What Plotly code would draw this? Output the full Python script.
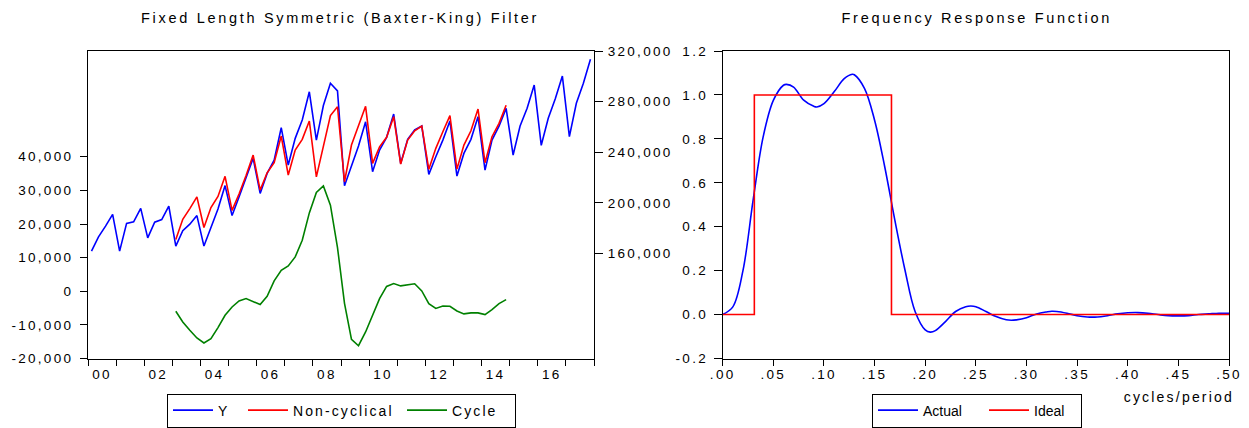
import pandas as pd
import plotly.graph_objects as go

# ---------------- data ----------------
quarters = pd.date_range("2000-01-01", "2017-10-01", freq="QS")
filt_quarters = quarters[12:60]          # 2003Q1 .. 2014Q4 (lag 12)

y_series = [161900, 173200, 181700, 190900,
            161900, 183800, 185100, 195700,
            172400, 184800, 186800, 197500,
            165900, 178100, 183200, 190000,
            165900, 181300, 195100, 213700,
            190000, 204600, 219600, 235200,
            207500, 223300, 233800, 259400,
            229900, 251000, 265500, 287800,
            249600, 276900, 294500, 288500,
            213500, 228500, 244900, 264100,
            224600, 241700, 251800, 270200,
            231200, 250200, 257600, 260700,
            222500, 236400, 249600, 264700,
            221200, 239100, 250200, 268100,
            225900, 249600, 260700, 274700,
            237800, 260700, 274700, 293100,
            245500, 266800, 282300, 300200,
            252300, 278700, 294500, 313400]

non_cyclical = [171100, 187000, 195500, 204800,
                180600, 196300, 205100, 221000,
                194100, 207000, 221600, 237800,
                210100, 223800, 231700, 252800,
                222000, 241700, 250200, 264700,
                220600, 244900, 269000, 276000,
                216700, 245700, 261100, 276300,
                231200, 244300, 251800, 268100,
                230700, 249600, 257000, 260700,
                226500, 243100, 256200, 268900,
                226700, 245700, 257000, 274200,
                231700, 252300, 262800, 277100]

cycle = [-5950, -9130, -11600, -13900,
         -15380, -14080, -10800, -7140,
         -4670, -2880, -2180, -3180,
         -3970, -1490, 3070, 6250,
         7540, 10210, 15180, 23300,
         29400, 31340, 25600, 13000,
         -3600, -14300, -16200, -12110,
         -7140, -2180, 1440, 2280,
         1590, 1980, 2230, 90,
         -3670, -5100, -4400, -4460,
         -5850, -6740, -6440, -6440,
         -6940, -5450, -3670, -2480]

freq_actual = [0.00, 0.01, 0.02, 0.03, 0.04, 0.05, 0.06, 0.063, 0.07, 0.08,
               0.09, 0.093, 0.10, 0.11, 0.12, 0.128, 0.13, 0.14, 0.15, 0.16,
               0.17, 0.18, 0.19, 0.20, 0.205, 0.21, 0.22, 0.23, 0.24, 0.245,
               0.25, 0.26, 0.27, 0.28, 0.285, 0.29, 0.30, 0.31, 0.32, 0.325,
               0.33, 0.34, 0.35, 0.36, 0.37, 0.38, 0.39, 0.40, 0.41, 0.42,
               0.43, 0.44, 0.45, 0.46, 0.47, 0.48, 0.49, 0.50]
resp_actual = [0.0, 0.035, 0.20, 0.52, 0.81, 0.975, 1.044, 1.048, 1.036, 0.976,
               0.948, 0.945, 0.960, 1.014, 1.074, 1.094, 1.092, 1.030, 0.885, 0.673,
               0.430, 0.203, 0.014, -0.070, -0.080, -0.073, -0.032, 0.014, 0.036, 0.039,
               0.036, 0.014, -0.009, -0.024, -0.026, -0.024, -0.014, 0.003, 0.012, 0.015,
               0.014, 0.006, -0.005, -0.011, -0.011, -0.005, 0.003, 0.008, 0.009, 0.006,
               0.0, -0.005, -0.006, -0.005, 0.0, 0.003, 0.006, 0.006]

low_cut = 1 / 32
high_cut = 1 / 6
freq_ideal = [0.0, low_cut, low_cut, high_cut, high_cut, 0.5]
resp_ideal = [0, 0, 1, 1, 0, 0]

left_ticks = [-20000, -10000, 0, 10000, 20000, 30000, 40000]
left_ticklabels = ["-20,000", "-10,000", "0", "10,000", "20,000", "30,000", "40,000"]
right_ticks = [160000, 200000, 240000, 280000, 320000]
right_ticklabels = ["160,000", "200,000", "240,000", "280,000", "320,000"]
year_label_pos = [f"{y}-07-01" for y in range(2000, 2017, 2)]
year_labels = ["00", "02", "04", "06", "08", "10", "12", "14", "16"]
year_bounds = [f"{y}-01-01" for y in range(2000, 2019)]
freq_ticks = [0.0, 0.05, 0.10, 0.15, 0.20, 0.25, 0.30, 0.35, 0.40, 0.45, 0.50]
freq_ticklabels = [".00", ".05", ".10", ".15", ".20", ".25", ".30", ".35", ".40", ".45", ".50"]
resp_ticks = [-0.2, 0.0, 0.2, 0.4, 0.6, 0.8, 1.0, 1.2]
resp_ticklabels = ["-0.2", "0.0", "0.2", "0.4", "0.6", "0.8", "1.0", "1.2"]

# ---------------- figure ----------------
W, H = 1249, 428
FONT = "Liberation Sans, Arial, sans-serif"
BLUE, RED, GREEN = "#0000FF", "#FF0000", "#008000"

fig = go.Figure()
fig.add_trace(go.Scatter(x=quarters, y=y_series, name="Y", mode="lines",
                         line=dict(color=BLUE, width=1.6), xperiod="M3",
                         xperiodalignment="middle", xaxis="x", yaxis="y2",
                         legend="legend", legendwidth=20))
fig.add_trace(go.Scatter(x=filt_quarters, y=non_cyclical, name="Non-cyclical", mode="lines",
                         line=dict(color=RED, width=1.6), xperiod="M3",
                         xperiodalignment="middle", xaxis="x", yaxis="y2",
                         legend="legend", legendwidth=104))
fig.add_trace(go.Scatter(x=filt_quarters, y=cycle, name="Cycle", mode="lines",
                         line=dict(color=GREEN, width=1.6), xperiod="M3",
                         xperiodalignment="middle", xaxis="x", yaxis="y",
                         legend="legend", legendwidth=58))
fig.add_trace(go.Scatter(x=freq_actual, y=resp_actual, name="Actual", mode="lines",
                         line=dict(color=BLUE, width=1.6, shape="spline", smoothing=1.0),
                         xaxis="x2", yaxis="y3", legend="legend2", legendwidth=56))
fig.add_trace(go.Scatter(x=freq_ideal, y=resp_ideal, name="Ideal", mode="lines",
                         line=dict(color=RED, width=1.6),
                         xaxis="x2", yaxis="y3", legend="legend2", legendwidth=42))

ybot, ytop = 1 - 358.5 / H, 1 - 51 / H
axis_common = dict(showgrid=False, zeroline=False, showline=True, linecolor="black",
                   linewidth=1, tickcolor="black", tickfont=dict(size=13.5, color="black"))

fig.update_layout(
    width=W, height=H,
    margin=dict(l=0, r=0, t=0, b=0, autoexpand=False),
    paper_bgcolor="white", plot_bgcolor="white",
    font=dict(family=FONT, color="black", size=14),
    xaxis=dict(domain=[88 / W, 594 / W], type="date",
               range=["2000-01-01", "2018-01-01"],
               tickmode="array", tickvals=year_label_pos, ticktext=year_labels,
               ticks="", mirror=True, ticklabelstandoff=3,
               minor=dict(tickmode="array", tickvals=year_bounds, ticks="outside",
                          ticklen=6, tickcolor="black", showgrid=False),
               anchor="y", **axis_common),
    yaxis=dict(domain=[ybot, ytop], range=[-20000, 71450],
               tickmode="array", tickvals=left_ticks, ticktext=left_ticklabels,
               ticks="outside", ticklen=7, ticklabelstandoff=4, anchor="x",
               **axis_common),
    yaxis2=dict(range=[77080, 320000], overlaying="y", side="right",
                tickmode="array", tickvals=right_ticks, ticktext=right_ticklabels,
                ticks="outside", ticklen=8, ticklabelstandoff=2, anchor="x",
                **axis_common),
    xaxis2=dict(domain=[722.7 / W, 1229 / W], range=[0, 0.5],
                tickmode="array", tickvals=freq_ticks, ticktext=freq_ticklabels,
                ticks="outside", ticklen=6, mirror=True, anchor="y3",
                ticklabelstandoff=-3, **axis_common),
    yaxis3=dict(domain=[ybot, ytop], range=[-0.2, 1.2],
                tickmode="array", tickvals=resp_ticks, ticktext=resp_ticklabels,
                ticks="outside", ticklen=8, mirror=True, anchor="x2",
                ticklabelstandoff=3, **axis_common),
    legend=dict(orientation="h", x=167 / W, y=1 - 427.5 / H, xanchor="left", yanchor="bottom",
                bordercolor="black", borderwidth=1, bgcolor="white",
                font=dict(size=14, color="black"), itemwidth=40),
    legend2=dict(orientation="h", x=872 / W, y=1 - 427.5 / H, xanchor="left", yanchor="bottom",
                 bordercolor="black", borderwidth=1, bgcolor="white",
                 font=dict(size=14, color="black"), itemwidth=40),
    annotations=[
        dict(text="Fixed Length Symmetric (Baxter-King) Filter", x=340 / W, y=1 - 18 / H,
             xref="paper", yref="paper", xanchor="center", yanchor="middle",
             showarrow=False, font=dict(size=14.5, color="black")),
        dict(text="Frequency Response Function", x=976 / W, y=1 - 18 / H,
             xref="paper", yref="paper", xanchor="center", yanchor="middle",
             showarrow=False, font=dict(size=14.5, color="black")),
        dict(text="cycles/period", x=1179 / W, y=1 - 397 / H,
             xref="paper", yref="paper", xanchor="center", yanchor="middle",
             showarrow=False, font=dict(size=14, color="black")),
    ],
)

js = """
document.body.style.margin = '0';
document.body.style.padding = '0';
var st = document.createElement('style');
st.textContent = "html,body{margin:0;padding:0;overflow:hidden;}" +
  "g.annotation[data-index='0'] text, g.annotation[data-index='1'] text {letter-spacing:2.7px;}" +
  "g.annotation[data-index='2'] text {letter-spacing:2.2px;}" +
  ".legendtext {letter-spacing:2.1px;}" +
  "g.xtick text, g.x2tick text, g.ytick text, g.y2tick text, g.y3tick text {letter-spacing:2.3px;}";
document.head.appendChild(st);
"""

fig.write_html("out.html", post_script=js, config={"displayModeBar": False})
